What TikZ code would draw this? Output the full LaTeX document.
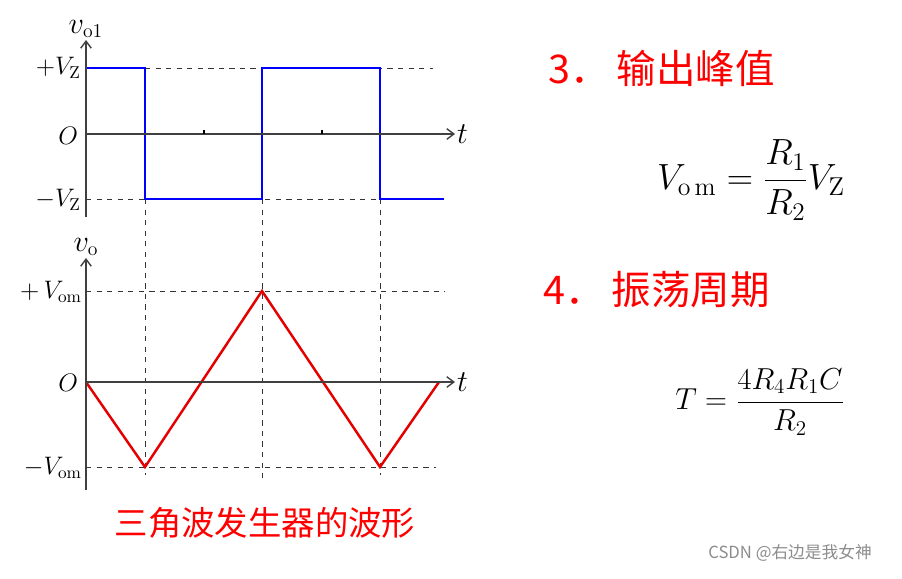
\documentclass[tikz,border=0pt]{standalone}
\usepackage{amsmath}
\usepackage{fontspec}
\newfontfamily\cjk{Noto Sans CJK SC}
\usetikzlibrary{arrows.meta}
\begin{document}
\begin{tikzpicture}[x=0.02cm,y=-0.02cm,
  axis/.style={-{Straight Barb[length=4pt,width=6pt]},line width=0.8pt,black!75},
  guide/.style={dashed,line width=0.55pt,black!80},
  sqwave/.style={line width=1.7pt,blue},
  triwave/.style={line width=1.4pt,red!90!black},
  lbl/.style={font=\fontsize{14}{16}\selectfont,inner sep=1pt},
  vlbl/.style={font=\fontsize{16}{18}\selectfont,inner sep=1pt},
  head/.style={font=\cjk\fontsize{22.5}{26}\selectfont,text=red,anchor=west,inner sep=0pt},
  formula/.style={font=\fontsize{18}{22}\selectfont}]
\useasboundingbox (0,0) rectangle (902,578);

% upper plot: v_o1
\coordinate (a0) at (86,217);
\coordinate (a1) at (86,40);
\coordinate (o1) at (86,134);
\coordinate (t1) at (455,134);
\draw [guide] (145,68) -- (433,68);
\draw [guide] (86,199) -- (380,199);
\draw [guide] (145,199) -- (145,475);
\draw [guide] (262,199) -- (262,480);
\draw [guide] (380,199) -- (380,475);
\draw [sqwave] (86,68) -- (145,68) -- (145,199) -- (262,199) -- (262,68)
  -- (380,68) -- (380,199) -- (444,199);
\draw [axis] (a0) -- (a1);
\draw [axis] (o1) -- (t1);
\draw [line width=0.6pt] (204,134) -- (204,130);
\draw [line width=0.6pt] (322,134) -- (322,130);
\node [vlbl,above] (lv1) at (a1) {$v_{\mathrm{o1}}$};
\node [vlbl,right] (lt1) at (t1) {$t$};
\node [lbl,anchor=east] (lpz) at (83,68) {$\mathord{+}V_{\mathrm{Z}}$};
\node [lbl,anchor=east] (lo1) at (80,136) {$O$};
\node [lbl,anchor=east] (lmz) at (83,200) {$\mathord{-}V_{\mathrm{Z}}$};

% lower plot: v_o
\coordinate (b0) at (86,490);
\coordinate (b1) at (86,258);
\coordinate (o2) at (86,382);
\coordinate (t2) at (455,382);
\draw [guide] (86,291) -- (445,291);
\draw [guide] (86,467) -- (436,467);
\draw [triwave] (86,382) -- (145,467) -- (262,291) -- (380,467) -- (439,382);
\draw [axis] (b0) -- (b1);
\draw [axis] (o2) -- (t2);
\node [vlbl,above] (lv2) at (b1) {$v_{\mathrm{o}}$};
\node [vlbl,right] (lt2) at (t2) {$t$};
\node [lbl,anchor=east] (lpm) at (84,292) {$\mathord{+}\,V_{\mathrm{om}}$};
\node [lbl,anchor=east] (lo2) at (80,383) {$O$};
\node [lbl,anchor=east] (lmm) at (84,468) {$\mathord{-}V_{\mathrm{om}}$};

\node [font=\cjk\fontsize{19}{22}\selectfont,text=red] (cap) at (265,523) {三角波发生器的波形};

% right side
\node [head] (h3) at (548,68) {3．\hspace{4pt}输出峰值};
\node [formula,font=\fontsize{21}{25}\selectfont] (f3) at (751,180) {$V_{\mathrm{o\,m}} = \dfrac{R_1}{R_2}V_{\mathrm{Z}}$};
\node [head] (h4) at (543,290) {4．\hspace{4pt}振荡周期};
\node [formula] (f4) at (760,402) {$T = \dfrac{4R_4R_1C}{R_2}$};

\node [font=\cjk\fontsize{9.5}{11}\selectfont,text=black!45] (wm) at (790,553) {CSDN @右边是我女神};
\end{tikzpicture}
\end{document}
